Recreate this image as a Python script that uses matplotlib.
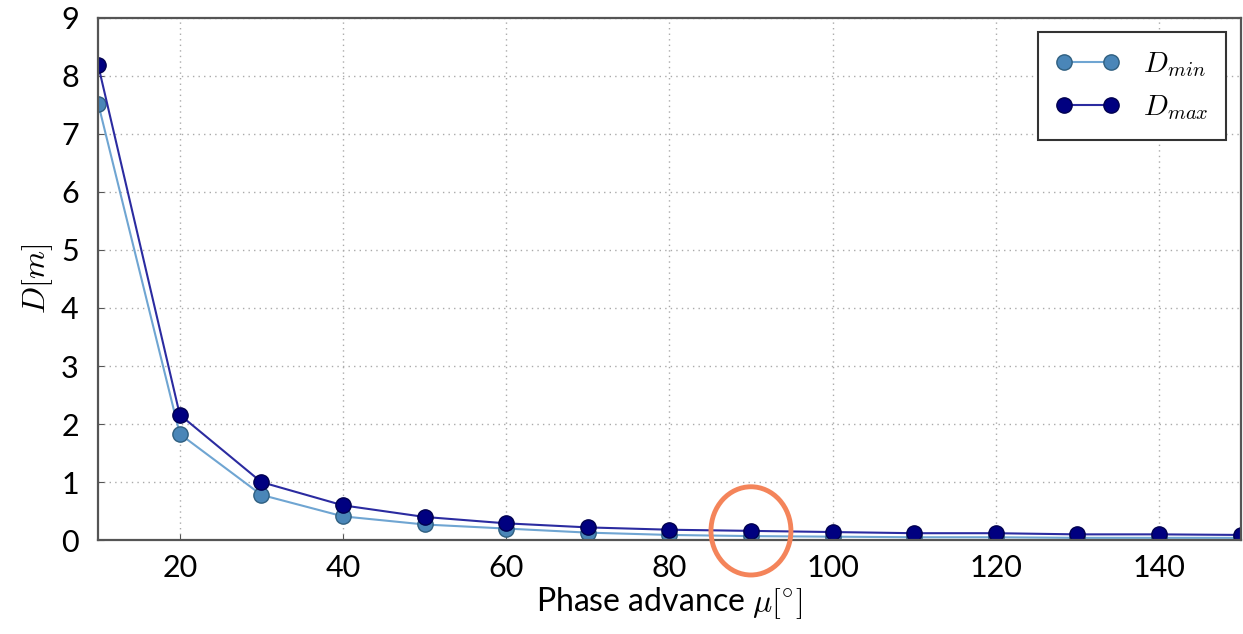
import matplotlib
matplotlib.use("Agg")
import matplotlib.pyplot as plt
from matplotlib.patches import Ellipse

# phase advance per cell [deg]
mu = [10, 20, 30, 40, 50, 60, 70, 80, 90, 100, 110, 120, 130, 140, 150]
# dispersion values [m]
d_min = [7.52, 1.83, 0.78, 0.41, 0.27, 0.20, 0.13, 0.09, 0.07, 0.06, 0.05, 0.05, 0.04, 0.04, 0.04]
d_max = [8.18, 2.16, 1.00, 0.60, 0.40, 0.29, 0.22, 0.18, 0.16, 0.14, 0.12, 0.12, 0.10, 0.10, 0.09]

plt.rcParams['mathtext.fontset'] = 'cm'
plt.rcParams['font.family'] = ['Lato', 'DejaVu Sans']

fig = plt.figure(figsize=(12.43, 6.34), dpi=100)
ax = fig.add_axes([0.079, 0.148, 0.919, 0.824])

ax.plot(mu, d_min, "-o", color="#6fa5d2", lw=1.5, ms=11,
        markerfacecolor="#4a86b8", markeredgecolor="#2f5f80", label=r"$D_{min}$")
ax.plot(mu, d_max, "-o", color="#2b2ba0", lw=1.5, ms=11,
        markerfacecolor="#000080", markeredgecolor="#000050", label=r"$D_{max}$")

# highlight the 90 degree cell
ax.add_patch(Ellipse((mu[8], d_max[8]), width=9.8, height=1.52, fill=False,
                     edgecolor="#f4845a", lw=3.5, clip_on=False, zorder=5))

ax.set_xlim(10, 150)
ax.set_ylim(0, 9)
ax.set_xticks([20, 40, 60, 80, 100, 120, 140])
ax.set_yticks(range(10))
ax.grid(True, linestyle=(0, (1, 3)), color="#aaaaaa", lw=1)
ax.tick_params(direction="in", labelsize=22, length=4, color="#555555", pad=10)
ax.tick_params(axis="y", pad=14)
for s in ax.spines.values():
    s.set_color("#555555")
    s.set_linewidth(1.6)

ax.set_xlabel(r"Phase advance $\mu[^{\circ}]$", fontsize=23, labelpad=2)
ax.set_ylabel(r"$D[m]$", fontsize=23, labelpad=4)

leg = ax.legend(loc="upper right", fontsize=21, fancybox=False, numpoints=2,
                borderpad=0.6, handlelength=2.2, framealpha=1)
leg.get_frame().set_edgecolor("#333333")
leg.get_frame().set_linewidth(1.5)

plt.savefig("out.png", dpi=100)
